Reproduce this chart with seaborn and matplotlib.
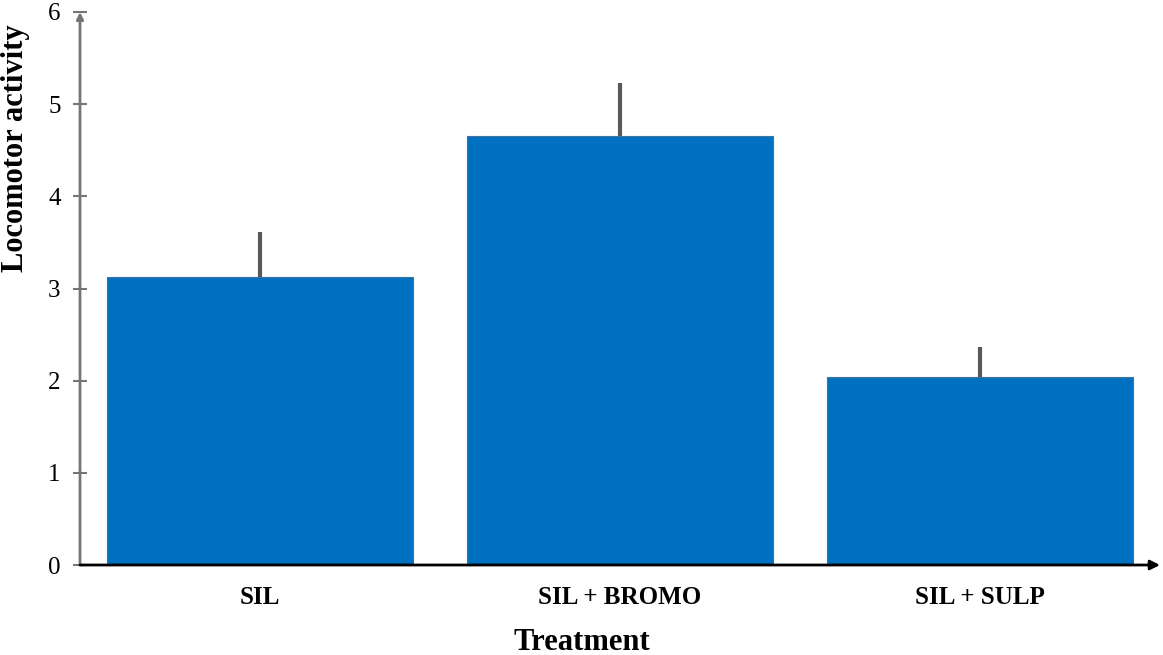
import matplotlib
matplotlib.use("Agg")
import matplotlib.pyplot as plt
import seaborn as sns
import pandas as pd

categories = ["SIL", "SIL + BROMO", "SIL + SULP"]
values = [3.12, 4.66, 2.04]
errors = [0.49, 0.57, 0.33]
yticks = [0, 1, 2, 3, 4, 5, 6]

sns.set_theme(style="white")
plt.rcParams['font.family'] = ['Liberation Serif', 'DejaVu Serif']
plt.rcParams['text.color'] = 'black'
plt.rcParams['xtick.color'] = 'black'
plt.rcParams['ytick.color'] = 'black'
plt.rcParams['axes.labelcolor'] = 'black'

df = pd.DataFrame({"Treatment": categories, "Locomotor activity": values})

fig = plt.figure(figsize=(11.63, 6.55), dpi=100)
ax = fig.add_axes([80/1163, 90/655, 1080/1163, 553/655])

sns.barplot(data=df, x="Treatment", y="Locomotor activity", color="#0070C0",
            saturation=1, width=0.85, errorbar=None, edgecolor="#41719C",
            linewidth=0.8, ax=ax)
ax.errorbar(range(len(categories)), values, yerr=[[0]*len(errors), errors],
            fmt="none", ecolor="#595959", elinewidth=3, capsize=0, zorder=3)

ax.set_xlim(-0.5, 2.5)
ax.set_ylim(0, 6)
ax.set_yticks(yticks)
ax.set_yticklabels([str(t) for t in yticks], fontsize=18)
for s in ax.spines.values():
    s.set_visible(False)

ax.tick_params(axis="y", direction="inout", length=10, width=1.5, color="#767676",
               labelcolor="black", left=True, pad=9)
ax.tick_params(axis="x", length=0, pad=15)
for lbl in ax.get_xticklabels():
    lbl.set_fontweight("bold")
    lbl.set_fontsize(18)

ax.set_xlabel("Treatment", fontsize=22, fontweight="bold")
ax.xaxis.set_label_coords((582-80)/1080, (565-642)/553)
ax.xaxis.label.set_verticalalignment("center")
ax.set_ylabel("Locomotor activity", fontsize=22, fontweight="bold")
ax.yaxis.set_label_coords((16-80)/1080, (565-148)/553)
ax.yaxis.label.set_verticalalignment("center")

# axis lines with arrows
ax.annotate("", xy=(0, 1.0), xytext=(0, 0), xycoords="axes fraction",
            arrowprops=dict(arrowstyle="-|>", color="#767676", lw=2,
                            mutation_scale=10, shrinkA=0, shrinkB=0), annotation_clip=False)
ax.annotate("", xy=(1.0, 0), xytext=(0, 0), xycoords="axes fraction",
            arrowprops=dict(arrowstyle="-|>", color="black", lw=2,
                            mutation_scale=14, shrinkA=0, shrinkB=0), annotation_clip=False)

fig.savefig("out.png", dpi=100)
